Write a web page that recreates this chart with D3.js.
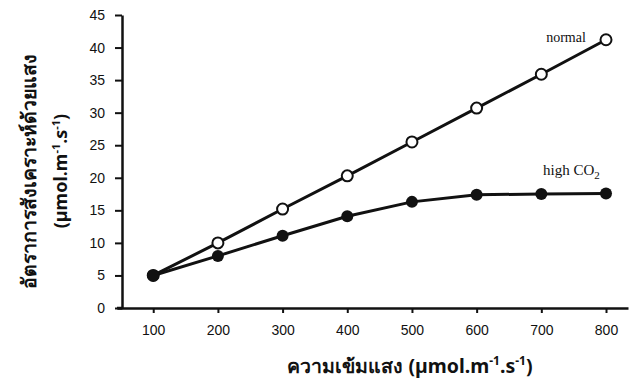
<!DOCTYPE html>
<html>
<head>
<meta charset="utf-8">
<script src="https://cdn.jsdelivr.net/npm/d3@7"></script>
<style>
  html, body { margin: 0; padding: 0; background: #fff; }
  svg { display: block; }
  .tick text { font-family: "Liberation Sans Narrow", "Liberation Sans", Arial, sans-serif; font-size: 14px; fill: #111; }
</style>
</head>
<body>
<svg id="chart" width="631" height="381"></svg>
<script>
// Light intensity (µmol.m-1.s-1)
const lightIntensity = [100, 200, 300, 400, 500, 600, 700, 800];
// Photosynthesis rate, normal CO2
const normalRate = [5, 10, 15.2, 20.3, 25.5, 30.7, 35.9, 41.2];
// Photosynthesis rate, high CO2
const highCO2Rate = [5, 8, 11.1, 14.1, 16.3, 17.4, 17.5, 17.6];
const yTicks = [0, 5, 10, 15, 20, 25, 30, 35, 40, 45];
const xTicks = [100, 200, 300, 400, 500, 600, 700, 800];

const svg = d3.select("#chart");
const ink = "#111";

const x = d3.scaleLinear().domain([44, 834]).range([117, 628]);
const y = d3.scaleLinear().domain([0, 45]).range([308, 15]);

// Axes
const xAxis = svg.append("g")
  .attr("transform", `translate(0,${y(0)})`)
  .call(d3.axisBottom(x).tickValues(xTicks).tickSize(5).tickPadding(12).tickSizeOuter(0));
const yAxis = svg.append("g")
  .attr("transform", `translate(${x(44) + 5},0)`)
  .call(d3.axisLeft(y).tickValues(yTicks).tickSize(7).tickPadding(10).tickSizeOuter(0));
[xAxis, yAxis].forEach(g => {
  g.select(".domain").attr("stroke", ink).attr("stroke-width", 2.5);
  g.selectAll(".tick line").attr("stroke", ink).attr("stroke-width", 2);
});
// x-axis baseline extends left to meet the y-axis
svg.append("line").attr("x1", x(44)).attr("x2", x(44) + 6)
  .attr("y1", y(0)).attr("y2", y(0)).attr("stroke", ink).attr("stroke-width", 2.5);

const line = d3.line().x(d => x(d[0])).y(d => y(d[1]));
const normalPts = lightIntensity.map((v, i) => [v, normalRate[i]]);
const highPts = lightIntensity.map((v, i) => [v, highCO2Rate[i]]);

svg.append("path").datum(normalPts).attr("d", line)
  .attr("fill", "none").attr("stroke", ink).attr("stroke-width", 3);
svg.append("path").datum(highPts).attr("d", line)
  .attr("fill", "none").attr("stroke", ink).attr("stroke-width", 3);

svg.selectAll("circle.normal").data(normalPts).enter().append("circle")
  .attr("class", "normal")
  .attr("cx", d => x(d[0])).attr("cy", d => y(d[1])).attr("r", 5.5)
  .attr("fill", "#fff").attr("stroke", ink).attr("stroke-width", 2);
svg.selectAll("circle.high").data(highPts).enter().append("circle")
  .attr("class", "high")
  .attr("cx", d => x(d[0])).attr("cy", d => y(d[1])).attr("r", 6)
  .attr("fill", ink);

// Series labels
const serif = "'Liberation Serif', 'DejaVu Serif', serif";
svg.append("text").attr("x", 566).attr("y", 42).attr("text-anchor", "middle")
  .attr("font-family", serif).attr("font-size", 14).attr("fill", ink).text("normal");
const hl = svg.append("text").attr("x", 543).attr("y", 175)
  .attr("font-family", serif).attr("font-size", 15).attr("fill", ink);
hl.append("tspan").text("high CO");
hl.append("tspan").attr("dy", 4).attr("font-size", 11).text("2");

// Axis titles
const sans = "'Noto Sans', 'DejaVu Sans', sans-serif";
const xt = svg.append("text").attr("x", 410).attr("y", 373).attr("text-anchor", "middle")
  .attr("font-family", sans).attr("font-weight", "bold").attr("font-size", 19.5).attr("fill", ink);
xt.append("tspan").text("ความเข้มแสง (µmol.m");
xt.append("tspan").attr("dy", -8).attr("font-size", 12).text("-1");
xt.append("tspan").attr("dy", 8).text(".s");
xt.append("tspan").attr("dy", -8).attr("font-size", 12).text("-1");
xt.append("tspan").attr("dy", 8).text(")");

const yt = svg.append("g").attr("transform", "translate(0,171) rotate(-90)");
yt.append("text").attr("x", 0).attr("y", 36).attr("text-anchor", "middle")
  .attr("font-family", sans).attr("font-weight", "bold").attr("font-size", 19.5).attr("fill", ink)
  .text("อัตราการสังเคราะห์ด้วยแสง");
const yt2 = yt.append("text").attr("x", 0).attr("y", 67).attr("text-anchor", "middle")
  .attr("font-family", sans).attr("font-weight", "bold").attr("font-size", 18).attr("fill", ink);
yt2.append("tspan").text("(µmol.m");
yt2.append("tspan").attr("dy", -7).attr("font-size", 11).text("-1");
yt2.append("tspan").attr("dy", 7).text(".s");
yt2.append("tspan").attr("dy", -7).attr("font-size", 11).text("-1");
yt2.append("tspan").attr("dy", 7).text(")");
</script>
</body>
</html>
